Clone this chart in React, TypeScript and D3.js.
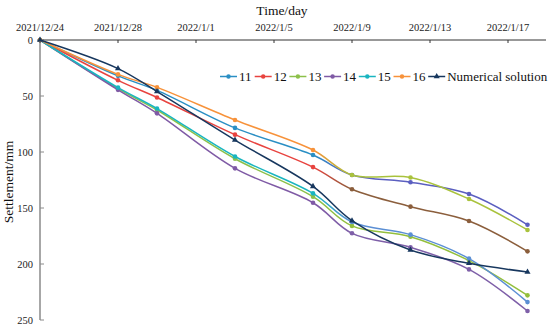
import * as d3 from 'd3';

const dates = ['2021/12/24', '2021/12/28', '2021/12/30', '2022/1/3', '2022/1/7', '2022/1/9', '2022/1/12', '2022/1/15', '2022/1/18'];
const tickDates = ['2021/12/24', '2021/12/28', '2022/1/1', '2022/1/5', '2022/1/9', '2022/1/13', '2022/1/17'];
const yTicks = [0, 50, 100, 150, 200, 250];

const names = ['11', '12', '13', '14', '15', '16', 'Numerical solution'];
const s11 = [0, 32, 45, 78.5, 102.7, 120.5, 127, 137.5, 165];
const s12 = [0, 36, 51.3, 84.5, 113.5, 133.3, 148.8, 161.6, 188.7];
const s13 = [0, 43.5, 62.5, 106, 139.9, 166, 175.6, 197, 228];
const s14 = [0, 44.5, 65.5, 114.6, 145.3, 172.6, 185.1, 204.8, 242];
const s15 = [0, 42.5, 61.2, 104, 136.9, 162.5, 173.8, 195.2, 234];
const s16 = [0, 30.7, 42.3, 71.4, 98.2, 120.5, 122.8, 142, 169.6];
const sNum = [0, 25.5, 46, 89.3, 130.7, 161.3, 187.5, 199.4, 207.1];
const values = [s11, s12, s13, s14, s15, s16, sNum];

// the picture's lines shift hue after 1/9
const colors = ['#2a8fc4', '#e8433f', '#8cc04a', '#7f5aa5', '#19b5c0', '#f7923a', '#17375e'];
const lateColors = ['#5b5fc0', '#8b5e3c', '#93bf3c', '#7e5fa8', '#5b8fd4', '#a9c23c', '#17375e'];

const W = 550;
const H = 327;
const parse = d3.timeParse('%Y/%m/%d');
const fmt = d3.timeFormat('%Y/%-m/%-d');
const fontStack = "'Liberation Serif', 'Times New Roman', Tinos, FreeSerif, serif";
const serif = { fontFamily: fontStack };

export default function App(): JSX.Element {
  const x = d3
    .scaleTime()
    .domain([parse('2021/12/24')!, parse('2022/1/19')!])
    .range([40, 547]);
  const y = d3.scaleLinear().domain([0, 250]).range([40, 320]);

  const days = dates.map((d) => parse(d)!);
  const switchA = x(parse('2022/1/7')!);
  const switchB = x(parse('2022/1/9')!);

  const line = d3
    .line<number>()
    .x((_, i) => x(days[i]))
    .y((v) => y(v))
    .curve(d3.curveCatmullRom.alpha(0.5));

  return (
    <svg width={W} height={H} fontFamily={fontStack} style={{ display: 'block', position: 'absolute', left: 0, top: 0 }}>
      <rect width={W} height={H} fill="#fff" />
      <defs>
        {values.map((_, i) => (
          <linearGradient key={i} id={`g${i}`} gradientUnits="userSpaceOnUse" x1={switchA} x2={switchB} y1={0} y2={0}>
            <stop offset="0" stopColor={colors[i]} />
            <stop offset="1" stopColor={lateColors[i]} />
          </linearGradient>
        ))}
      </defs>

      <text x={282} y={15} style={serif} fontSize={13.5} textAnchor="middle" fill="#111">
        Time/day
      </text>
      <text
        transform={`translate(13,${(y(0) + y(250)) / 2 + 2}) rotate(-90)`}
        style={serif}
        fontSize={13.5}
        textAnchor="middle"
        fill="#111"
      >
        Settlement/mm
      </text>

      {/* left axis */}
      <line x1={40} x2={40} y1={y(0)} y2={y(250)} stroke="#8a8a8a" strokeWidth={1.5} />
      {yTicks.map((t) => (
        <g key={t}>
          <line x1={40} x2={44} y1={y(t)} y2={y(t)} stroke="#8a8a8a" />
          <text x={33} y={y(t) + 3.5} style={serif} fontSize={10.5} textAnchor="end" fill="#222">
            {t}
          </text>
        </g>
      ))}

      {/* top axis */}
      <line x1={40} x2={546} y1={y(0)} y2={y(0)} stroke="#333" strokeWidth={1} />
      {tickDates.map((t) => {
        const px = x(parse(t)!);
        return (
          <g key={t}>
            <line x1={px} x2={px} y1={y(0)} y2={y(0) + 3} stroke="#333" />
            <text x={px} y={31} style={serif} fontSize={10.5} textAnchor="middle" fill="#222">
              {fmt(parse(t)!)}
            </text>
          </g>
        );
      })}

      {values.map((vals, i) => (
        <g key={names[i]}>
          <path d={line(vals) ?? ''} fill="none" stroke={`url(#g${i})`} strokeWidth={1.5} />
          {vals.map((v, j) => {
            const px = x(days[j]);
            const c = px <= switchA ? colors[i] : lateColors[i];
            return i === 6 ? (
              <path key={j} d={d3.symbol(d3.symbolTriangle, 16)()!} transform={`translate(${px},${y(v)})`} fill={c} />
            ) : (
              <circle key={j} cx={px} cy={y(v)} r={2.3} fill={c} />
            );
          })}
        </g>
      ))}

      {/* legend */}
      {names.map((n, i) => {
        const lx = 220 + i * 34.7;
        const ly = 76.5;
        return (
          <g key={n}>
            <line x1={lx} x2={lx + 17} y1={ly} y2={ly} stroke={colors[i]} strokeWidth={1.5} />
            {i === 6 ? (
              <path d={d3.symbol(d3.symbolTriangle, 16)()!} transform={`translate(${lx + 8.5},${ly})`} fill={colors[i]} />
            ) : (
              <circle cx={lx + 8.5} cy={ly} r={2.2} fill={colors[i]} />
            )}
            <text x={lx + 19} y={ly + 4.3} style={serif} fontSize={13} fill="#111">
              {n}
            </text>
          </g>
        );
      })}
    </svg>
  );
}
